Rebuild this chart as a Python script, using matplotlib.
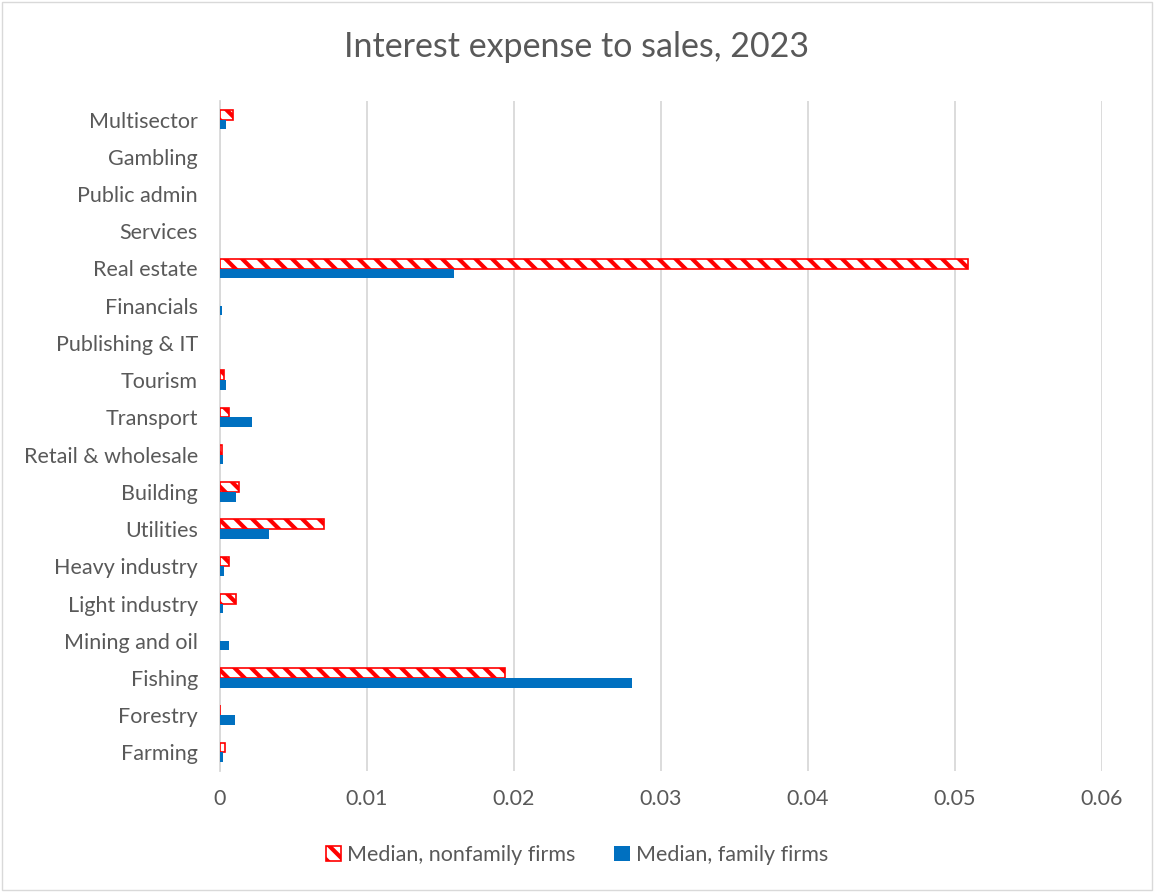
import numpy as np
import matplotlib.pyplot as plt

plt.rcParams['font.family'] = ['Lato', 'DejaVu Sans']
plt.rcParams['hatch.color'] = '#ff0000'
plt.rcParams['hatch.linewidth'] = 3.0

sectors = ["Farming", "Forestry", "Fishing", "Mining and oil", "Light industry",
           "Heavy industry", "Utilities", "Building", "Retail & wholesale",
           "Transport", "Tourism", "Publishing & IT", "Financials", "Real estate",
           "Services", "Public admin", "Gambling", "Multisector"]
nonfamily = [0.00036, 0.00003, 0.0194, 0.0, 0.00107, 0.00063, 0.0071, 0.0013,
             0.00015, 0.00063, 0.00027, 0.0, 0.0, 0.0509, 0.0, 0.0, 0.0, 0.00088]
family = [0.0002, 0.001, 0.028, 0.0006, 0.00023, 0.0003, 0.0033, 0.0011,
          0.0002, 0.0022, 0.0004, 0.0, 0.00015, 0.0159, 0.0, 0.0, 0.0, 0.0004]

gray = '#595959'
red = '#ff0000'
fig = plt.figure(figsize=(11.54, 8.92), dpi=100)
ax = fig.add_axes([220 / 1154, 1 - 771 / 892, (1102 - 220) / 1154, 670 / 892])

y = np.arange(len(sectors))
h = 0.26
edges = [red if v > 0 else 'none' for v in nonfamily]
ax.barh(y + h / 2, nonfamily, height=h, color='white', edgecolor=edges,
        linewidth=1.2, hatch='\\\\', label="Median, nonfamily firms", zorder=3)
ax.barh(y - h / 2, family, height=h, color='#0070c0', label="Median, family firms", zorder=3)

ax.set_xlim(0, 0.06)
ax.set_ylim(-0.5, len(sectors) - 0.5)
ax.set_xticks([0, 0.01, 0.02, 0.03, 0.04, 0.05, 0.06])
ax.set_xticklabels(["0", "0.01", "0.02", "0.03", "0.04", "0.05", "0.06"])
ax.set_yticks(y)
ax.set_yticklabels(sectors)
ax.tick_params(axis='both', length=0, labelsize=15.5, colors=gray)
ax.tick_params(axis='x', pad=13)
ax.tick_params(axis='y', pad=16)
ax.grid(axis='x', color='#d9d9d9', linewidth=1.3, zorder=0)
for s in ['top', 'right', 'bottom']:
    ax.spines[s].set_visible(False)
ax.spines['left'].set_color('#d9d9d9')
ax.spines['left'].set_linewidth(1.3)
ax.set_axisbelow(True)

fig.suptitle("Interest expense to sales, 2023", y=1 - 47 / 892, va='center',
             fontsize=24.5, color=gray)
handles, labels = ax.get_legend_handles_labels()
handles[0].patches[0].set_edgecolor(red)
fig.legend(handles, labels, loc='center', bbox_to_anchor=(0.5, 1 - 855 / 892),
           ncol=2, frameon=False, fontsize=15.5, labelcolor=gray,
           handlelength=0.7, handleheight=0.7, handletextpad=0.3, columnspacing=1.8)

fig.patches.append(plt.Rectangle((0.002, 0.002), 0.996, 0.996, transform=fig.transFigure,
                                 fill=False, edgecolor='#d9d9d9', linewidth=1))
fig.savefig("out.png", dpi=100)
